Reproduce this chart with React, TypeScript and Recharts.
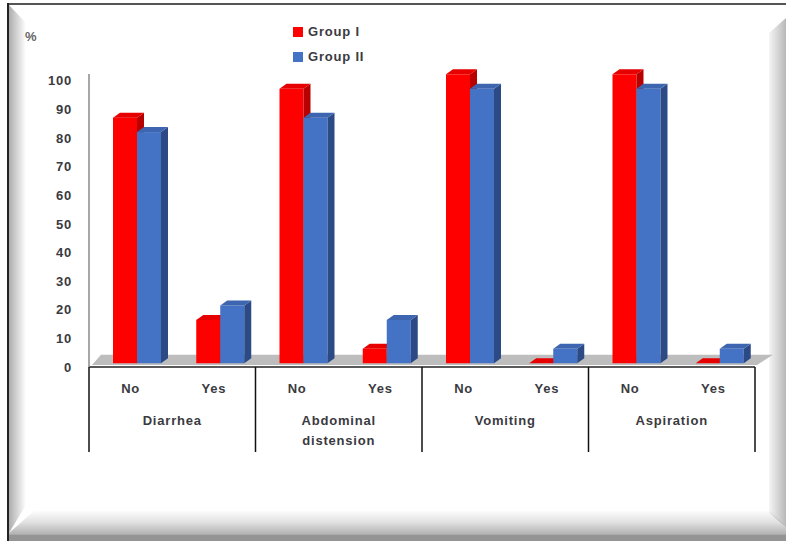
import React from 'react';
import { BarChart, Bar, XAxis, YAxis, ReferenceArea } from 'recharts';

// ---------- data ----------
const subCategories = ['No', 'Yes', 'No', 'Yes', 'No', 'Yes', 'No', 'Yes'];
const groupLabels = [
  'Diarrhea', 'Diarrhea',
  'Abdominal distension', 'Abdominal distension',
  'Vomiting', 'Vomiting',
  'Aspiration', 'Aspiration',
];
const groupI = [85, 15, 95, 5, 100, 0, 100, 0];
const groupII = [80, 20, 85, 15, 95, 5, 95, 5];
const yTicks = [0, 10, 20, 30, 40, 50, 60, 70, 80, 90, 100];
const seriesNames = ['Group I', 'Group II'];
const unitLabel = '%';

const data = subCategories.map((s, i) => ({
  key: `${groupLabels[i]}|${s}|${i}`,
  sub: s,
  group: groupLabels[i],
  g1: groupI[i],
  g2: groupII[i],
}));

// ---------- layout / style ----------
const W = 786;
const H = 541;
const PLOT_LEFT = 89;
const PLOT_RIGHT = 755;
const PLOT_TOP = 74;
const PLOT_BOTTOM = 367;
const X_AXIS_H = 95;
const Y_AXIS_W = 60;
const BAND = (PLOT_RIGHT - PLOT_LEFT) / subCategories.length;

const FONT = '"Liberation Sans", Arial, sans-serif';
const TEXT = '#3a3a40';
const FS = 13;
const LS = 0.8;

const RED = { front: '#ff0000', top: '#e60000', side: '#b80000' };
const BLUE = { front: '#4472c4', top: '#3e66b0', side: '#2c4a85' };
const colors = [RED, BLUE];

const DX = 7;
const DY = 5;
const SHIFT = 6;

function make3D(c: { front: string; top: string; side: string }) {
  return (props: any) => {
    const { x, y, width, height } = props;
    if (x == null || y == null) return null;
    const h = Math.max(height || 0, 0);
    const w = width;
    const fx = x + SHIFT;
    return (
      <g>
        <rect x={fx} y={y} width={w} height={h} fill={c.front} />
        <polygon
          points={`${fx + w},${y} ${fx + w + DX},${y - DY} ${fx + w + DX},${y + h - DY} ${fx + w},${y + h}`}
          fill={c.side}
        />
        <polygon
          points={`${fx},${y} ${fx + DX},${y - DY} ${fx + w + DX},${y - DY} ${fx + w},${y}`}
          fill={c.top}
        />
      </g>
    );
  };
}

const Floor = (props: any) => {
  const { x, y, width, height } = props;
  return (
    <polygon
      points={`${x + 3},${y + height} ${x + width + 2},${y + height} ${x + width + 18},${y} ${x + 12},${y}`}
      fill="#bdbdbd"
    />
  );
};

const XTick = (props: any) => {
  const { x, y, payload } = props;
  const i = payload.index;
  const parts: React.ReactNode[] = [];
  parts.push(
    <text key="s" x={x} y={y + 21} textAnchor="middle" dominantBaseline="central"
      fontFamily={FONT} fontSize={FS} fontWeight="bold" letterSpacing={LS} fill={TEXT}>
      {subCategories[i]}
    </text>
  );
  if (i % 2 === 0) {
    const gx = x + BAND / 2;
    const lines = groupLabels[i].split(' ');
    lines.forEach((ln, k) => {
      parts.push(
        <text key={'g' + k} x={gx} y={y + 53 + k * 20} textAnchor="middle" dominantBaseline="central"
          fontFamily={FONT} fontSize={FS} fontWeight="bold" letterSpacing={LS} fill={TEXT}>
          {ln}
        </text>
      );
    });
    parts.push(
      <line key="sepL" x1={x - BAND / 2} x2={x - BAND / 2} y1={y} y2={y + 85} stroke="#111" strokeWidth={1.5} />
    );
  }
  if (i === subCategories.length - 1) {
    parts.push(
      <line key="sepR" x1={x + BAND / 2} x2={x + BAND / 2} y1={y} y2={y + 85} stroke="#111" strokeWidth={1.5} />
    );
  }
  return <g>{parts}</g>;
};

export default function App() {
  return (
    <div style={{ position: 'fixed', left: 0, top: 0, width: W, height: H, background: '#fff', overflow: 'hidden', fontFamily: FONT }}>
      {/* frame */}
      <div style={{ position: 'absolute', left: 7, top: 3, right: 0, height: 2, background: '#555' }} />
      <div style={{ position: 'absolute', left: 7, top: 3, width: 2, bottom: 0, background: '#222' }} />
      <div
        style={{
          position: 'absolute', left: 9, top: 5, width: 17, bottom: 8,
          background: 'linear-gradient(to right, rgba(0,0,0,0.32), rgba(0,0,0,0))',
          clipPath: 'polygon(0 0, 100% 18px, 100% calc(100% - 28px), 0 100%)',
        }}
      />
      <div
        style={{
          position: 'absolute', left: 769, top: 18, width: 17, bottom: 14,
          background: 'linear-gradient(to right, rgba(0,0,0,0.04), rgba(0,0,0,0.28))',
          clipPath: 'polygon(100% 0, 0 15px, 0 calc(100% - 14px), 100% 100%)',
        }}
      />
      <div
        style={{
          position: 'absolute', left: 9, right: 0, top: 510, bottom: 0,
          background: 'linear-gradient(to bottom, rgba(0,0,0,0) 0%, rgba(0,0,0,0.12) 40%, rgba(0,0,0,0.3) 78%, rgba(0,0,0,0.42) 82%, rgba(0,0,0,0.42) 100%)',
          clipPath: 'polygon(26px 0, calc(100% - 17px) 0, 100% 17px, 100% 100%, 0 100%, 0 23px)',
        }}
      />
      {/* unit label */}
      <div style={{ position: 'absolute', left: 25, top: 29, fontSize: FS, fontWeight: 'bold', color: '#666' }}>{unitLabel}</div>
      {/* legend */}
      {seriesNames.map((n, i) => (
        <div key={n} style={{ position: 'absolute', left: 293, top: 25 + i * 25, display: 'flex', alignItems: 'center' }}>
          <div style={{ width: 10, height: 10, background: colors[i].front, marginRight: 5 }} />
          <span style={{ fontSize: FS, fontWeight: 'bold', color: TEXT, letterSpacing: LS, lineHeight: '14px' }}>{n}</span>
        </div>
      ))}
      <div style={{ position: 'absolute', left: 0, top: 0 }}>
        <BarChart
          width={W}
          height={H}
          data={data}
          margin={{ top: PLOT_TOP, right: W - PLOT_RIGHT, bottom: H - PLOT_BOTTOM - X_AXIS_H, left: PLOT_LEFT - Y_AXIS_W }}
          barGap={0}
          barSize={24}
        >
          <XAxis
            dataKey="key"
            interval={0}
            height={X_AXIS_H}
            tickSize={0}
            tickMargin={0}
            tickLine={false}
            axisLine={{ stroke: '#222', strokeWidth: 1.5 }}
            tick={<XTick />}
          />
          <YAxis
            yAxisId="labels"
            width={Y_AXIS_W}
            domain={[0, 102.4]}
            ticks={yTicks}
            allowDataOverflow
            tickLine={false}
            tickSize={0}
            tickMargin={17}
            axisLine={{ stroke: '#8a8a8a', strokeWidth: 1.5 }}
            tick={{ fontFamily: FONT, fontSize: FS, fontWeight: 'bold', fill: TEXT, letterSpacing: LS }}
          />
          <YAxis yAxisId="bars" hide width={0} domain={[-1.3, 100.1]} />
          <ReferenceArea yAxisId="bars" y1={-0.6} y2={2.9} ifOverflow="visible" shape={<Floor />} />
          <Bar yAxisId="bars" dataKey="g1" name={seriesNames[0]} fill={RED.front} isAnimationActive={false} shape={make3D(RED)} />
          <Bar yAxisId="bars" dataKey="g2" name={seriesNames[1]} fill={BLUE.front} isAnimationActive={false} shape={make3D(BLUE)} />
        </BarChart>
      </div>
    </div>
  );
}
